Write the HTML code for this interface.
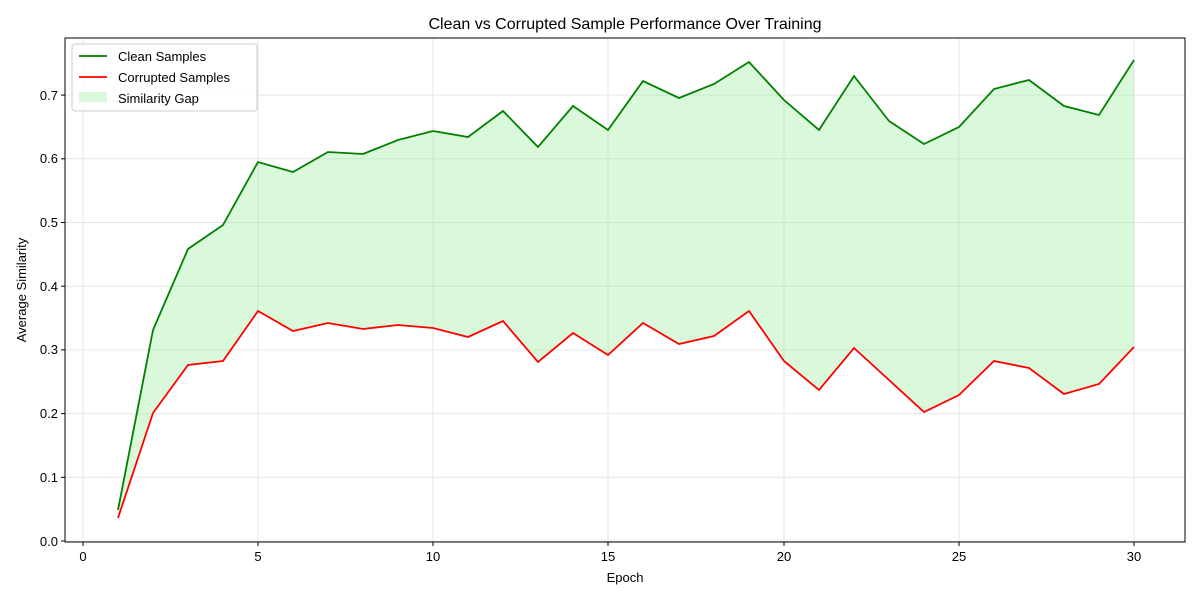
<!DOCTYPE html>
<html><head><meta charset="utf-8"><style>body{margin:0;background:#fff}svg{display:block}text{font-family:"Liberation Sans","DejaVu Sans",sans-serif;fill:#000}</style></head><body>
<svg width="1200" height="600" viewBox="0 0 1200 600">
<rect width="1200" height="600" fill="#fff"/>
<g stroke="#e6e6e6" stroke-width="1">
<line x1="83" y1="38" x2="83" y2="542"/><line x1="258" y1="38" x2="258" y2="542"/><line x1="433" y1="38" x2="433" y2="542"/><line x1="608" y1="38" x2="608" y2="542"/><line x1="784" y1="38" x2="784" y2="542"/><line x1="959" y1="38" x2="959" y2="542"/><line x1="1134" y1="38" x2="1134" y2="542"/>
<line x1="65" y1="541" x2="1185" y2="541"/><line x1="65" y1="477.3" x2="1185" y2="477.3"/><line x1="65" y1="413.6" x2="1185" y2="413.6"/><line x1="65" y1="349.9" x2="1185" y2="349.9"/><line x1="65" y1="286.2" x2="1185" y2="286.2"/><line x1="65" y1="222.5" x2="1185" y2="222.5"/><line x1="65" y1="158.8" x2="1185" y2="158.8"/><line x1="65" y1="95.1" x2="1185" y2="95.1"/>
</g>
<polygon fill="#90ee90" fill-opacity="0.33" points="118,510 153,330 188,249 223,225 258,162 293,172 328,152 363,154 398,140 433,131 468,137 503,111 538,147 573,106 608,130 643,81 679,98 714,84 749,62 784,100 819,130 854,76 889,121 924,144 959,127 994,89 1029,80 1064,106 1099,115 1134,60 1134,347 1099,384 1064,394 1029,368 994,361 959,395 924,412 889,380 854,348 819,390 784,361 749,311 714,336 679,344 643,323 608,355 573,333 538,362 503,321 468,337 433,328 398,325 363,329 328,323 293,331 258,311 223,361 188,365 153,413 118,518"/>
<polyline fill="none" stroke="#008000" stroke-width="1.8" points="118,510 153,330 188,249 223,225 258,162 293,172 328,152 363,154 398,140 433,131 468,137 503,111 538,147 573,106 608,130 643,81 679,98 714,84 749,62 784,100 819,130 854,76 889,121 924,144 959,127 994,89 1029,80 1064,106 1099,115 1134,60"/>
<polyline fill="none" stroke="#ff0000" stroke-width="1.8" points="118,518 153,413 188,365 223,361 258,311 293,331 328,323 363,329 398,325 433,328 468,337 503,321 538,362 573,333 608,355 643,323 679,344 714,336 749,311 784,361 819,390 854,348 889,380 924,412 959,395 994,361 1029,368 1064,394 1099,384 1134,347"/>
<rect x="65" y="38" width="1120" height="504" fill="none" stroke="#000" stroke-width="1"/>
<g stroke="#000"><line x1="83" y1="542" x2="83" y2="546"/><line x1="258" y1="542" x2="258" y2="546"/><line x1="433" y1="542" x2="433" y2="546"/><line x1="608" y1="542" x2="608" y2="546"/><line x1="784" y1="542" x2="784" y2="546"/><line x1="959" y1="542" x2="959" y2="546"/><line x1="1134" y1="542" x2="1134" y2="546"/>
<line x1="61" y1="541" x2="65" y2="541"/><line x1="61" y1="477.3" x2="65" y2="477.3"/><line x1="61" y1="413.6" x2="65" y2="413.6"/><line x1="61" y1="349.9" x2="65" y2="349.9"/><line x1="61" y1="286.2" x2="65" y2="286.2"/><line x1="61" y1="222.5" x2="65" y2="222.5"/><line x1="61" y1="158.8" x2="65" y2="158.8"/><line x1="61" y1="95.1" x2="65" y2="95.1"/></g>
<g font-size="13" text-anchor="middle"><text x="83" y="561">0</text><text x="258" y="561">5</text><text x="433" y="561">10</text><text x="608" y="561">15</text><text x="784" y="561">20</text><text x="959" y="561">25</text><text x="1134" y="561">30</text></g>
<g font-size="13" text-anchor="end"><text x="58" y="546">0.0</text><text x="58" y="482">0.1</text><text x="58" y="418">0.2</text><text x="58" y="354">0.3</text><text x="58" y="291">0.4</text><text x="58" y="227">0.5</text><text x="58" y="163">0.6</text><text x="58" y="100">0.7</text></g>
<text x="625" y="582" font-size="13" text-anchor="middle">Epoch</text>
<text x="26" y="290" font-size="13" text-anchor="middle" transform="rotate(-90 26 290)">Average Similarity</text>
<text x="625" y="29" font-size="16" text-anchor="middle">Clean vs Corrupted Sample Performance Over Training</text>
<rect x="72" y="44" width="185" height="67" rx="3" fill="#fff" fill-opacity="0.8" stroke="#ccc"/>
<line x1="79" y1="56" x2="107" y2="56" stroke="#008000" stroke-width="1.8"/>
<line x1="79" y1="77" x2="107" y2="77" stroke="#ff0000" stroke-width="1.8"/>
<rect x="79" y="92" width="28" height="10" fill="#90ee90" fill-opacity="0.33"/>
<g font-size="13"><text x="118" y="61">Clean Samples</text><text x="118" y="82">Corrupted Samples</text><text x="118" y="103">Similarity Gap</text></g>
</svg></body></html>
